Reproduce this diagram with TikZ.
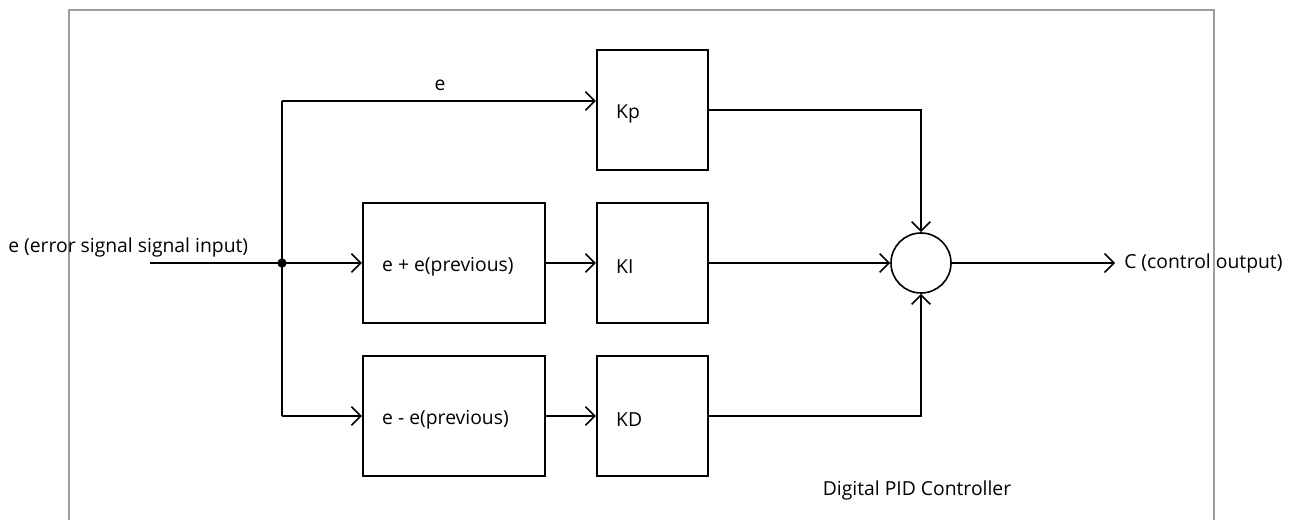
\documentclass[tikz,border=0pt]{standalone}
\usepackage{fontspec}
\setmainfont{Open Sans}
\usetikzlibrary{arrows.meta}
\begin{document}
\begin{tikzpicture}[x=0.75pt,y=-0.75pt,
  every node/.style={font=\fontsize{14.5pt}{17pt}\selectfont},
  blk/.style={draw,line width=1.6pt,rectangle,inner sep=0pt,minimum height=90pt},
  gain/.style={blk,minimum width=83.25pt},
  op/.style={blk,minimum width=136.5pt},
  wire/.style={line width=1.2pt},
  arr/.style={wire,-{Straight Barb[length=7pt,width=14pt,line width=1.2pt]}},
  lbl/.style={inner sep=0pt}]
\useasboundingbox (0,0) rectangle (1299,520);
% outer frame
\draw[line width=0.8pt,black!38] (69,520) -- (69,10) -- (1214,10) -- (1214,520);
% blocks
\node[gain] (kp) at (652.5,110) {};
\node[gain] (ki) at (652.5,263) {};
\node[gain] (kd) at (652.5,416) {};
\node[op] (sum1) at (454,263) {};
\node[op] (diff) at (454,416) {};
\node[circle,draw,line width=1.2pt,minimum size=45pt,inner sep=0pt] (sum) at (921,263) {};
% block texts
\node[lbl,anchor=west] (kpt) at ([xshift=15pt,yshift=-3pt]kp.west) {Kp};
\node[lbl,anchor=west] (kit) at ([xshift=15pt,yshift=-3pt]ki.west) {KI};
\node[lbl,anchor=west] (kdt) at ([xshift=15pt,yshift=-3pt]kd.west) {KD};
\node[lbl,anchor=west] (s1t) at ([xshift=15pt,yshift=-3pt]sum1.west) {e + e(previous)};
\node[lbl,anchor=west] (dft) at ([xshift=15pt,yshift=-3pt]diff.west) {e - e(previous)};
% coordinates
\coordinate (in) at (150,263);
\coordinate (j) at (282,263);
\coordinate (top) at (282,101);
\coordinate (out) at (1115,263);
% labels
\node[lbl,anchor=west] (intxt) at (8,247) {e (error signal signal input)};
\node[lbl] (elbl) at (440,85) {e};
\node[lbl,anchor=west] (outtxt) at (1124,263) {C (control output)};
\node[lbl] (title) at (917,490) {Digital PID Controller};
% wires
\draw[wire] (in) -- (j);
\fill (j) circle (3.5pt);
\draw[wire] (top) -- (j |- diff.west);
\draw[arr] (top) -- (top -| kp.west);
\draw[arr] (j) -- (sum1.west);
\draw[arr] (j |- diff.west) -- (diff.west);
\draw[arr] (sum1.east) -- (ki.west);
\draw[arr] (diff.east) -- (kd.west);
\draw[arr] (kp.east) -| (sum.north);
\draw[arr] (ki.east) -- (sum.west);
\draw[arr] (kd.east) -| (sum.south);
\draw[arr] (sum.east) -- (out);
\end{tikzpicture}
\end{document}
